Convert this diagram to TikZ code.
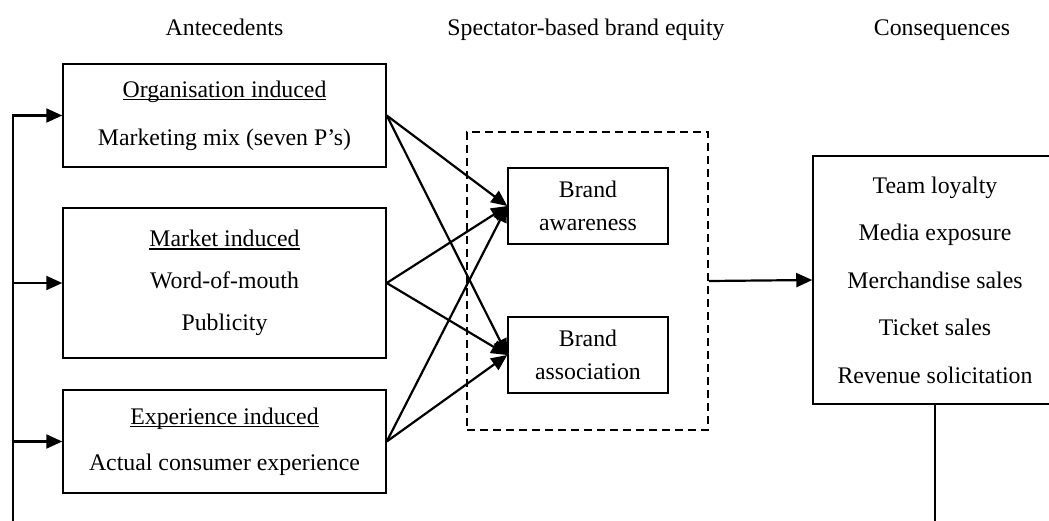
\documentclass[tikz,border=0pt]{standalone}
\usepackage{fontspec}
\setmainfont{Liberation Serif}
\usetikzlibrary{arrows.meta}
% underline drawn just below the baseline
\newcommand{\undl}[1]{{\setbox0\hbox{#1}\rlap{\rule[-3pt]{\wd0}{1.3pt}}\box0}}
\begin{document}
\begin{tikzpicture}[x=1pt,y=-1pt,
  every node/.style={font=\fontsize{23.8}{28}\selectfont, inner sep=0pt},
  boxed/.style={draw, line width=1.5pt, align=center},
  conn/.style={line width=2.2pt, -{Triangle[length=16pt,width=14pt]}},
  plain/.style={line width=1.8pt}]
\useasboundingbox (0,0) rectangle (1049,520);
\clip (0,0) rectangle (1049,520);

% column headings
\node[anchor=base] (hA) at (224.5,35) {Antecedents};
\node[anchor=base] (hS) at (586,35) {Spectator-based brand equity};
\node[anchor=base] (hC) at (942,35) {Consequences};

% antecedent boxes
\node[boxed, minimum width=323pt, minimum height=103pt,
      font=\fontsize{23.8}{48}\selectfont] (b1) at (224.5,115.5)
  {\undl{Organisation induced}\\Marketing mix (seven P’s)};
\node[boxed, minimum width=323pt, minimum height=150pt,
      font=\fontsize{23.8}{42}\selectfont] (b2) at (224.5,283)
  {\undl{Market induced}\\Word-of-mouth\\Publicity};
\node[boxed, minimum width=323pt, minimum height=103pt,
      font=\fontsize{23.8}{46}\selectfont] (b3) at (224.5,441.5)
  {\undl{Experience induced}\\Actual consumer experience};

% brand equity group
\node[draw, dashed, dash pattern=on 8pt off 5pt, line width=1.5pt,
      minimum width=241pt, minimum height=298pt] (eq) at (587.5,281) {};
\node[boxed, minimum width=160pt, minimum height=76pt,
      font=\fontsize{23.8}{33}\selectfont] (aw) at (588,206) {Brand\\awareness};
\node[boxed, minimum width=160pt, minimum height=76pt,
      font=\fontsize{23.8}{33}\selectfont] (as) at (588,355) {Brand\\association};

% consequences
\node[boxed, minimum width=244pt, minimum height=248pt,
      font=\fontsize{23.8}{47.5}\selectfont] (cs) at (935,280)
  {Team loyalty\\Media exposure\\Merchandise sales\\Ticket sales\\Revenue solicitation};

% links from antecedents to brand equity dimensions
\foreach \s in {b1,b2,b3}{
  \draw[conn] (\s.east) -- (aw.west);
  \draw[conn] (\s.east) -- (as.west);
}
\draw[conn] (eq.east) -- (cs.west);

% feedback loop
\coordinate (fbL) at (13,530);
\coordinate (fbR) at (cs.south |- fbL);
\draw[plain] (cs.south) -- (fbR);
\draw[conn] (fbL) |- (b1.west);
\draw[conn] (fbL |- b2.west) -- (b2.west);
\draw[conn] (fbL |- b3.west) -- (b3.west);
\end{tikzpicture}
\end{document}
